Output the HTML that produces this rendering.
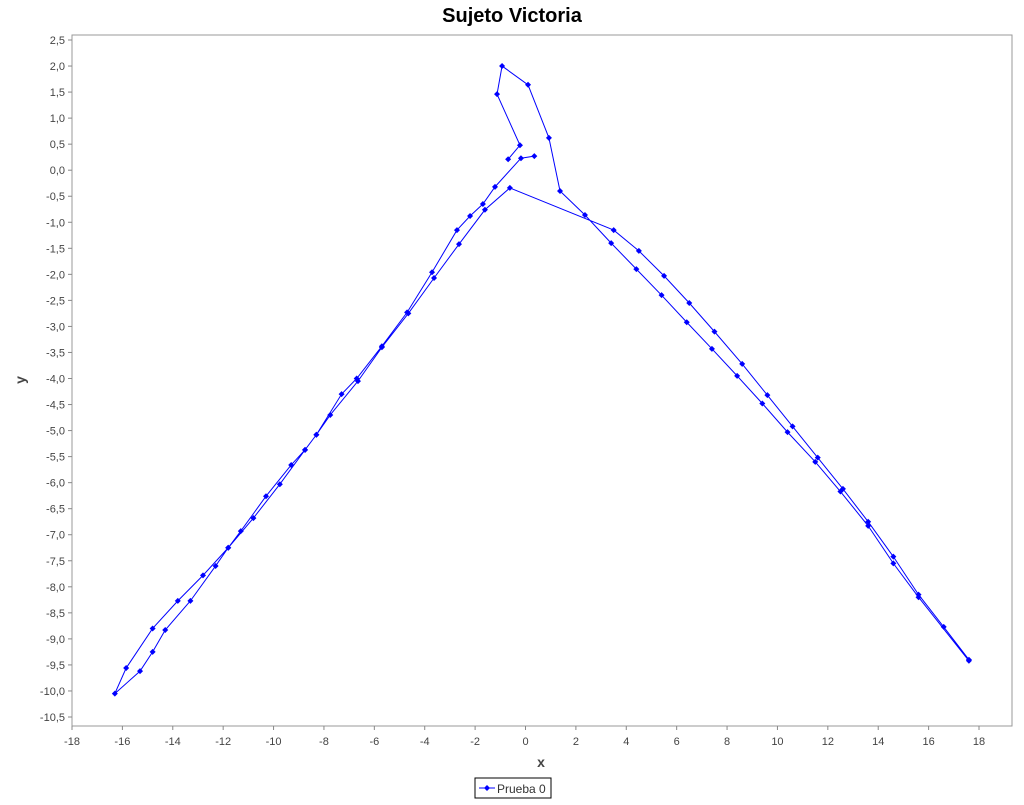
<!DOCTYPE html>
<html><head><meta charset="utf-8"><style>
body{margin:0;background:#fff;font-family:"Liberation Sans",sans-serif;}
</style></head><body>
<svg id="chart" width="1024" height="800" xmlns="http://www.w3.org/2000/svg" font-family="Liberation Sans, sans-serif">
<rect width="1024" height="800" fill="#fff"/>
<text x="512" y="22" text-anchor="middle" font-size="20" font-weight="bold">Sujeto Victoria</text>
<rect x="72" y="35" width="940" height="691" fill="#fff" stroke="#999"/>
<g id="xt"></g><g id="yt"></g>
<text x="541" y="767" text-anchor="middle" font-size="14" font-weight="bold" fill="#444">x</text>
<text x="25" y="380" text-anchor="middle" font-size="14" font-weight="bold" fill="#444" transform="rotate(-90 25 380)">y</text>
<g id="series"></g>
<g>
<rect x="475" y="778" width="76" height="20" fill="#fff" stroke="#000"/>
<line x1="479" y1="788" x2="495" y2="788" stroke="#00f"/>
<path d="M487 785 L490 788 L487 791 L484 788Z" fill="#00f"/>
<text x="497" y="793" font-size="12" fill="#333">Prueba 0</text>
</g>
</svg>
<script>
const xs = [0.35,-0.18,-1.21,-1.69,-2.2,-2.72,-3.71,-4.7,-5.7,-6.7,-7.3,-8.3,-8.75,-9.3,-10.3,-11.3,-11.8,-12.8,-13.8,-14.8,-15.85,-16.3,-15.3,-14.8,-14.3,-13.3,-12.3,-11.8,-10.8,-9.75,-8.75,-8.3,-7.75,-6.65,-5.7,-4.65,-3.63,-2.64,-1.61,-0.62,3.5,4.5,5.5,6.5,7.5,8.6,9.6,10.6,11.6,12.6,13.6,14.6,15.6,16.6,17.6,17.6,15.6,14.6,13.6,12.5,11.5,10.4,9.4,8.4,7.4,6.4,5.4,4.4,3.4,2.36,1.37,0.93,0.1,-0.93,-1.13,-0.22,-0.69];
const ys = [0.27,0.23,-0.32,-0.65,-0.88,-1.15,-1.96,-2.73,-3.38,-4.0,-4.3,-5.08,-5.37,-5.66,-6.26,-6.93,-7.25,-7.78,-8.27,-8.8,-9.56,-10.05,-9.62,-9.25,-8.83,-8.27,-7.6,-7.25,-6.68,-6.03,-5.37,-5.08,-4.7,-4.05,-3.4,-2.75,-2.07,-1.42,-0.76,-0.34,-1.15,-1.55,-2.03,-2.55,-3.1,-3.72,-4.32,-4.92,-5.52,-6.12,-6.75,-7.42,-8.15,-8.77,-9.4,-9.42,-8.2,-7.55,-6.83,-6.17,-5.6,-5.03,-4.48,-3.95,-3.43,-2.92,-2.4,-1.9,-1.4,-0.86,-0.4,0.62,1.64,2.0,1.46,0.48,0.21];
const xTicks = [-18,-16,-14,-12,-10,-8,-6,-4,-2,0,2,4,6,8,10,12,14,16,18];
const yTicks = [2.5,2,1.5,1,0.5,0,-0.5,-1,-1.5,-2,-2.5,-3,-3.5,-4,-4.5,-5,-5.5,-6,-6.5,-7,-7.5,-8,-8.5,-9,-9.5,-10,-10.5];
const NS="http://www.w3.org/2000/svg";
function X(v){return 72+(v+18)*(979-72)/36;}
function Y(v){return 40+(2.5-v)*(717-40)/13;}
function mk(t,a,p){const e=document.createElementNS(NS,t);for(const k in a)e.setAttribute(k,a[k]);p.appendChild(e);return e;}
const xt=document.getElementById('xt'),yt=document.getElementById('yt'),sg=document.getElementById('series');
xTicks.forEach(v=>{const x=X(v);
 mk('line',{x1:x,y1:726,x2:x,y2:730,stroke:'#888'},xt);
 const t=mk('text',{x:x,y:745,'text-anchor':'middle','font-size':'11',fill:'#444'},xt);t.textContent=String(v);
 
 });
yTicks.forEach(v=>{const y=Y(v);
 mk('line',{x1:68,y1:y,x2:72,y2:y,stroke:'#888'},yt);
 const t=mk('text',{x:65,y:y+4,'text-anchor':'end','font-size':'11',fill:'#444'},yt);t.textContent=(Number.isInteger(v)?v.toFixed(1):String(v)).replace('.',',');
 
 });
const pl=mk('polyline',{points:xs.map((v,i)=>X(v)+','+Y(ys[i])).join(' '),fill:'none',stroke:'#00f','stroke-width':'1'},sg);


xs.forEach((v,i)=>{const x=X(v),y=Y(ys[i]);
 const p=mk('path',{d:`M${x} ${y-3}L${x+3} ${y}L${x} ${y+3}L${x-3} ${y}Z`,fill:'#00f'},sg);
 
 });
</script>
</body></html>
